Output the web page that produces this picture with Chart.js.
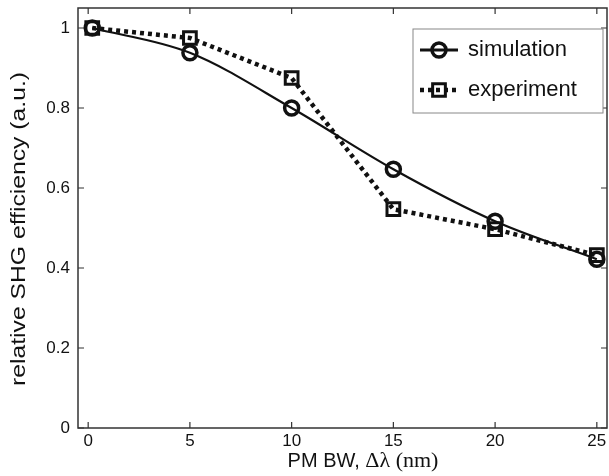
<!DOCTYPE html>
<html>
<head>
<meta charset="utf-8">
<script src="https://cdn.jsdelivr.net/npm/chart.js@4.4.1/dist/chart.umd.min.js"></script>
<style>
  html, body { margin: 0; padding: 0; background: #fff; }
  #wrap { width: 609px; height: 476px; }
</style>
</head>
<body>
<div id="wrap"><canvas id="shgChart"></canvas></div>
<script>
// values
const bandwidth = [0.2, 5, 10, 15, 20, 25];
const simulation = [1.0, 0.938, 0.80, 0.647, 0.517, 0.422];
const experiment = [1.0, 0.975, 0.875, 0.547, 0.497, 0.432];
const xTicks = [0, 5, 10, 15, 20, 25];
const yTicks = [0, 0.2, 0.4, 0.6, 0.8, 1];
const seriesNames = ["simulation", "experiment"];

const sans = "'Liberation Sans', Arial, sans-serif";
const serif = "'Liberation Serif', 'Times New Roman', serif";
const ink = "#111";

function toPoints(ys) {
  return bandwidth.map((x, i) => ({ x: x, y: ys[i] }));
}

// ---------- frame, inward ticks, tick labels, legend box, axis titles ----------
const decorPlugin = {
  id: "decor",
  afterDraw(chart) {
    const ctx = chart.ctx;
    const { left, right, top, bottom } = chart.chartArea;
    const xs = chart.scales.x, ys = chart.scales.y;
    ctx.save();

    // box
    ctx.strokeStyle = "#333";
    ctx.lineWidth = 1.5;
    ctx.strokeRect(left, top, right - left, bottom - top);

    // ticks pointing inward on all four sides
    ctx.lineWidth = 1.2;
    ctx.beginPath();
    xTicks.forEach(v => {
      const px = xs.getPixelForValue(v);
      ctx.moveTo(px, bottom); ctx.lineTo(px, bottom - 6);
      ctx.moveTo(px, top); ctx.lineTo(px, top + 6);
    });
    yTicks.forEach(v => {
      const py = ys.getPixelForValue(v);
      ctx.moveTo(left, py); ctx.lineTo(left + 6, py);
      ctx.moveTo(right, py); ctx.lineTo(right - 6, py);
    });
    ctx.stroke();

    // tick labels
    ctx.fillStyle = ink;
    ctx.font = "17px " + sans;
    ctx.textBaseline = "middle";
    ctx.textAlign = "center";
    xTicks.forEach(v => ctx.fillText(String(v), xs.getPixelForValue(v), bottom + 13));
    ctx.textAlign = "right";
    yTicks.forEach(v => ctx.fillText(String(v), left - 8, ys.getPixelForValue(v)));

    // y title, stretched a little along its length like the original
    ctx.font = "21px " + sans;
    ctx.textAlign = "center";
    const yTitle = "relative SHG efficiency (a.u.)";
    const yw = ctx.measureText(yTitle).width;
    ctx.save();
    ctx.translate(19, 229);
    ctx.rotate(-Math.PI / 2);
    ctx.scale(314 / yw, 1);
    ctx.fillText(yTitle, 0, 0);
    ctx.restore();

    // x title, mixed fonts
    const partA = "PM BW, ";
    const partB = "\u0394\u03bb (nm)";
    ctx.font = "20px " + sans;
    const wA = ctx.measureText(partA).width;
    ctx.font = "22px " + serif;
    const wB = ctx.measureText(partB).width;
    const tx = 363 - (wA + wB) / 2;
    ctx.textAlign = "left";
    ctx.font = "20px " + sans;
    ctx.fillText(partA, tx, 461);
    ctx.font = "22px " + serif;
    ctx.fillText(partB, tx + wA, 461);

    // legend
    const lx = 413, ly = 29, lw = 190, lh = 84;
    ctx.fillStyle = "#fff";
    ctx.fillRect(lx, ly, lw, lh);
    ctx.strokeStyle = "#888";
    ctx.lineWidth = 1;
    ctx.strokeRect(lx, ly, lw, lh);

    const rows = [50, 90];
    chart.data.datasets.forEach((ds, i) => {
      const cy = rows[i];
      ctx.strokeStyle = ds.borderColor;
      ctx.lineWidth = i === 0 ? 3 : ds.borderWidth;
      ctx.setLineDash(ds.borderDash || []);
      ctx.beginPath();
      ctx.moveTo(420, cy); ctx.lineTo(458, cy);
      ctx.stroke();
      ctx.setLineDash([]);
      ctx.lineWidth = ds.pointBorderWidth;
      ctx.beginPath();
      if (ds.pointStyle === "circle") {
        ctx.arc(439, cy, ds.pointRadius, 0, Math.PI * 2);
      } else {
        const s = Math.SQRT1_2 * ds.pointRadius;
        ctx.rect(439 - s, cy - s, 2 * s, 2 * s);
      }
      ctx.stroke();
      ctx.fillStyle = ink;
      ctx.font = "22px " + sans;
      ctx.textAlign = "left";
      ctx.textBaseline = "middle";
      ctx.fillText(seriesNames[i], 468, cy);
    });

    ctx.restore();
  }
};

new Chart(document.getElementById("shgChart"), {
  type: "line",
  data: {
    datasets: [
      {
        label: seriesNames[0],
        data: toPoints(simulation),
        borderColor: ink,
        backgroundColor: "rgba(0,0,0,0)",
        borderWidth: 2.2,
        cubicInterpolationMode: "monotone",
        pointStyle: "circle",
        pointRadius: 7,
        pointBorderWidth: 3.5,
        pointBorderColor: ink,
        pointBackgroundColor: "rgba(0,0,0,0)"
      },
      {
        label: seriesNames[1],
        data: toPoints(experiment),
        borderColor: ink,
        backgroundColor: "rgba(0,0,0,0)",
        borderWidth: 4.5,
        borderDash: [4, 4],
        borderCapStyle: "butt",
        tension: 0,
        pointStyle: "rect",
        pointRadius: 9,
        pointBorderWidth: 3,
        pointBorderColor: ink,
        pointBackgroundColor: "rgba(0,0,0,0)"
      }
    ]
  },
  options: {
    responsive: true,
    maintainAspectRatio: false,
    animation: false,
    layout: { autoPadding: false, padding: { top: 8, right: 2, left: 0, bottom: 0 } },
    plugins: { legend: { display: false }, tooltip: { enabled: false } },
    scales: {
      x: {
        type: "linear",
        min: -0.5,
        max: 25.5,
        grid: { display: false, drawTicks: false },
        border: { display: false },
        afterBuildTicks: s => { s.ticks = xTicks.map(v => ({ value: v })); },
        afterFit: s => { s.height = 48; },
        ticks: { display: false }
      },
      y: {
        min: 0,
        max: 1.05,
        grid: { display: false, drawTicks: false },
        border: { display: false },
        afterBuildTicks: s => { s.ticks = yTicks.map(v => ({ value: v })); },
        afterFit: s => { s.width = 78; },
        ticks: { display: false }
      }
    }
  },
  plugins: [decorPlugin]
});
</script>
</body>
</html>
